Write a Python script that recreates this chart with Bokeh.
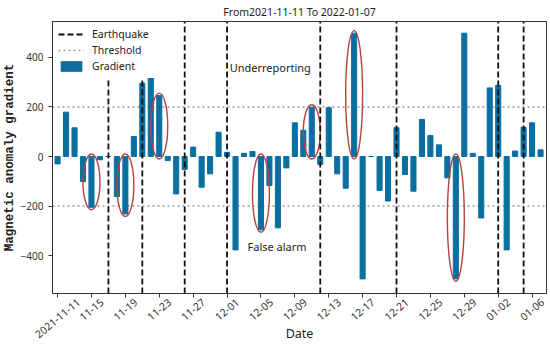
import math
import pandas as pd
from bokeh.plotting import figure
from bokeh.models import (Range1d, FixedTicker, Label, ColumnDataSource, Title,
                          Legend, LegendItem, LinearAxis, CustomJSTickFormatter)
from bokeh.embed import file_html
from bokeh.resources import INLINE

# ---------------- data ----------------
start_date = "2021-11-11"
end_date = "2022-01-07"
gradient = [-30, 179, 116, -101, -205, -13, 0, -162, -232, 81,
            296, 354, 246, -16, -151, -52, 38, -124, -70, 98,
            17, -377, 13, 20, -296, -117, -288, -46, 136, 106,
            199, -32, 197, -70, -128, 498, -494, 0, -137, -180,
            116, -73, -140, 150, 85, 47, -86, -494, 498, 13,
            -248, 277, 287, -377, 22, 118, 136, 27]
earthquake_dates = ["2021-11-17", "2021-11-21", "2021-11-26", "2021-12-01",
                    "2021-12-12", "2021-12-21", "2022-01-02", "2022-01-05"]
threshold = [200, -200]
circled_dates = ["2021-11-15", "2021-11-19", "2021-11-23", "2021-12-05",
                 "2021-12-11", "2021-12-16", "2021-12-28"]
tick_dates = ["2021-11-11", "2021-11-15", "2021-11-19", "2021-11-23", "2021-11-27",
              "2021-12-01", "2021-12-05", "2021-12-09", "2021-12-13", "2021-12-17",
              "2021-12-21", "2021-12-25", "2021-12-29", "2022-01-02", "2022-01-06"]
tick_labels = ["2021-11-11", "11-15", "11-19", "11-23", "11-27", "12-01", "12-05",
               "12-09", "12-13", "12-17", "12-21", "12-25", "12-29", "01-02", "01-06"]
y_ticks = [-400, -200, 0, 200, 400]
title_text = "From2021-11-11 To 2022-01-07"
y_label = "Magnetic anomaly gradient"
x_label = "Date"

# ---------------- helpers ----------------
t0 = pd.Timestamp(start_date)
def idx(d):
    return (pd.Timestamp(d) - t0).days

dates = pd.date_range(start_date, end_date)
day_x = [idx(d) for d in dates]
eq_x = [idx(d) for d in earthquake_dates]
circ_x = [idx(d) for d in circled_dates]
circ_v = [gradient[i] for i in circ_x]
tick_x = [idx(d) for d in tick_dates]

XMIN, XMAX = -0.6, 57.7
YMIN, YMAX = -553, 545
FRAME_W = 550 - 51 - 4
PX_PER_DAY = FRAME_W / (XMAX - XMIN)

FONT = "Noto Sans"
BAR = "#0a6fa0"
RED = "#b9403f"
AX = "#333333"
TICK_FS = 10.5
THETA = math.radians(40)

p = figure(width=550, height=346, x_range=Range1d(XMIN, XMAX), y_range=Range1d(YMIN, YMAX),
           output_backend="svg", toolbar_location=None, title=title_text,
           min_border_left=51, min_border_right=4, min_border_top=21, min_border_bottom=53)
p.title.align = "center"
p.title.text_font = FONT
p.title.text_font_size = "10.5px"
p.title.text_font_style = "normal"
p.title.text_color = "#222222"
p.title.standoff = 5
p.title.offset = -8
p.outline_line_color = AX
p.xgrid.grid_line_color = None
p.ygrid.grid_line_color = None

xax = p.below[0]
yax = p.left[0]

for ax in (xax, yax):
    ax.axis_line_color = AX
    ax.major_tick_line_color = AX
    ax.major_tick_out = 4
    ax.major_tick_in = 0
    ax.minor_tick_line_color = None
    ax.major_label_text_font = FONT
    ax.major_label_text_font_size = "10px"
    ax.major_label_text_color = AX

yax.ticker = FixedTicker(ticks=y_ticks)
yax.major_label_standoff = 5

# vertical axis title (side title so it can be shifted along the axis)
p.add_layout(Title(text=y_label, align="center", offset=-16, standoff=1,
                   text_font="Liberation Mono", text_font_size="12.5px",
                   text_font_style="bold", text_color="#222222"), "left")

# bottom axis: tick marks only (its own labels are not drawn)
xax.ticker = FixedTicker(ticks=tick_x)
xax.major_label_text_font_size = "0px"
xax.major_label_text_color = None
xax.major_label_standoff = 0

# second bottom axis: rotated labels centred under the ticks
shift_days = []
for t in tick_labels:
    nd = sum(c.isdigit() for c in t)
    nh = len(t) - nd
    w = TICK_FS * (0.572 * nd + 0.322 * nh)
    shift_days.append((w / 2) * math.cos(THETA) / PX_PER_DAY)
label_ticks = [x + s for x, s in zip(tick_x, shift_days)]
lab_ax = LinearAxis(ticker=FixedTicker(ticks=label_ticks),
                    formatter=CustomJSTickFormatter(args=dict(labels=tick_labels),
                                                    code="return labels[index]"),
                    axis_line_color=None, major_tick_line_color=None, minor_tick_line_color=None,
                    major_tick_out=0, major_tick_in=0, major_label_standoff=3,
                    major_label_orientation=THETA, major_label_text_font=FONT,
                    major_label_text_font_size=f"{TICK_FS}px", major_label_text_color=AX,
                    axis_label=x_label, axis_label_text_font=FONT, axis_label_text_font_size="12.5px",
                    axis_label_text_font_style="normal", axis_label_text_color="#222222",
                    axis_label_standoff=-20)
p.add_layout(lab_ax, "below")

# frame box (top/right)
for side in ("above", "right"):
    a = LinearAxis(ticker=FixedTicker(ticks=[]), axis_line_color=AX, major_tick_line_color=None,
                   minor_tick_line_color=None, major_label_text_font_size="0px",
                   major_label_text_color=None,
                   major_label_standoff=0, major_tick_out=0, major_tick_in=0)
    p.add_layout(a, side)

# threshold lines
th = p.segment(x0=[XMIN] * len(threshold), x1=[XMAX] * len(threshold), y0=threshold, y1=threshold,
               line_color="#999999", line_dash="2 3", line_width=1.4)
# bars
src = ColumnDataSource(dict(x=day_x, y=gradient))
bars = p.vbar(x="x", top="y", bottom=0, width=0.6, source=src, fill_color=BAR, line_color=BAR)
# ellipses
p.ellipse(x=circ_x, y=[v / 2 for v in circ_v], width=2.0, height=[abs(v) + 20 for v in circ_v],
          fill_color=None, line_color=RED, line_width=1.4)
# earthquake lines
eq = p.segment(x0=eq_x, x1=eq_x, y0=[YMIN] * len(eq_x), y1=[YMAX] * len(eq_x),
               line_color="#111111", line_dash="6 3", line_width=1.8)

legend = Legend(items=[LegendItem(label="Earthquake", renderers=[eq]),
                       LegendItem(label="Threshold", renderers=[th]),
                       LegendItem(label="Gradient", renderers=[bars])],
                location="top_left", margin=1, padding=5, spacing=2,
                glyph_width=26, glyph_height=12, label_standoff=8,
                label_text_font=FONT, label_text_font_size="10.5px",
                label_text_color="#222222", border_line_alpha=0,
                background_fill_color="white", background_fill_alpha=1.0)
p.add_layout(legend)

# in-plot annotations
p.add_layout(Label(x=25.1, y=361, text="Underreporting", text_font=FONT, text_font_size="11px",
                   text_color="#222222", text_align="center", text_baseline="middle"))
p.add_layout(Label(x=25.9, y=-362, text="False alarm", text_font=FONT, text_font_size="11px",
                   text_color="#222222", text_align="center", text_baseline="middle"))

open("out.html", "w").write(file_html(p, INLINE))
